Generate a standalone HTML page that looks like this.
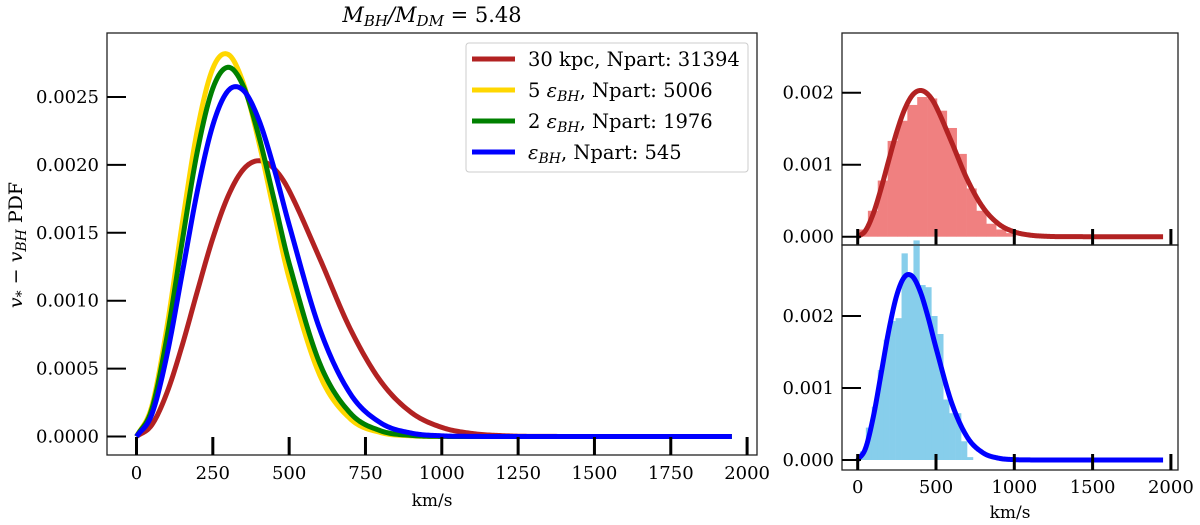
<!DOCTYPE html>
<html><head><meta charset="utf-8">
<style>
html,body{margin:0;padding:0;background:#fff;}
svg{display:block;font-family:"DejaVu Serif","Liberation Serif",serif;}
</style></head>
<body>
<svg id="chart" width="1200" height="525" viewBox="0 0 1200 525" xmlns="http://www.w3.org/2000/svg">
  <text x="432" y="22" text-anchor="middle" font-size="21"><tspan font-style="italic">M</tspan><tspan font-style="italic" font-size="15" dy="4">BH</tspan><tspan dy="-4" font-style="italic">/M</tspan><tspan font-style="italic" font-size="15" dy="4">DM</tspan><tspan dy="-4"> = 5.48</tspan></text>
  <text transform="translate(22,245) rotate(-90)" text-anchor="middle" font-size="19"><tspan font-style="italic">v</tspan><tspan font-size="14" dy="4">*</tspan><tspan dy="-4"> − </tspan><tspan font-style="italic">v</tspan><tspan font-style="italic" font-size="14" dy="4">BH</tspan><tspan dy="-4"> PDF</tspan></text>
  <text x="432" y="506" text-anchor="middle" font-size="17">km/s</text>
  <text x="1010" y="518" text-anchor="middle" font-size="17">km/s</text>
  <g id="main"></g><g id="top"></g><g id="bot"></g>
  <g id="legend"></g>
</svg>
<script>
// ---- data ----
const vGrid = [0,50,100,150,200,250,300,350,400,450,500,600,700,800,900,1000,1100,1200,1300,1950];
const red30kpc = [0,0.085,0.324,0.674,1.075,1.46,1.77,1.967,2.031,1.974,1.81,1.312,0.793,0.406,0.177,0.067,0.022,0.006,0.001,0];
const yellow5eps = [0,0.222,0.810,1.571,2.266,2.711,2.814,2.601,2.175,1.661,1.165,0.453,0.131,0.029,0.005,0,0,0,0,0];
const green2eps = [0,0.200,0.736,1.441,2.108,2.564,2.719,2.579,2.218,1.750,1.275,0.540,0.173,0.042,0.008,0.001,0,0,0,0];
const blueEps = [0,0.162,0.603,1.205,1.815,2.293,2.546,2.549,2.336,1.979,1.558,0.793,0.316,0.100,0.025,0.005,0.001,0,0,0];
const mainYTicks = [0,0.5,1.0,1.5,2.0,2.5];
const mainYLabels = ["0.0000","0.0005","0.0010","0.0015","0.0020","0.0025"];
const mainXTicks = [0,250,500,750,1000,1250,1500,1750,2000];
const sideXTicks = [0,500,1000,1500,2000];
const sideYTicks = [0,1,2];
const sideYLabels = ["0.000","0.001","0.002"];
const topHistStart = 2, topHistWidth = 63;
const topHist = [0.10,0.36,0.78,1.33,1.61,1.83,1.94,1.92,1.75,1.51,1.15,0.67,0.36,0.18,0.10,0.05];
const botHistStart = 14, botHistWidth = 38;
const botHist = [0.12,0.45,0.74,1.25,1.67,1.93,1.97,2.87,2.55,3.05,2.43,2.40,2.00,1.75,0.84,0.65,0.65,0.26,0.04];
const legendLabels = ["30 kpc, Npart: 31394","5 εBH, Npart: 5006","2 εBH, Npart: 1976","εBH, Npart: 545"];
const seriesColors = ["#b22222","#ffd700","#008000","#0000ff"];
</script>
<script>
const NS="http://www.w3.org/2000/svg";
function mk(tag,attrs,parent){const e=document.createElementNS(NS,tag);for(const k in attrs)e.setAttribute(k,attrs[k]);parent.appendChild(e);return e;}
function spline(xs,ys){
  const n=xs.length,m=new Array(n);
  m[0]=(ys[1]-ys[0])/(xs[1]-xs[0]);m[n-1]=0;
  for(let i=1;i<n-1;i++){m[i]=(ys[i+1]-ys[i-1])/(xs[i+1]-xs[i-1]);
    if(ys[i]===0&&ys[i+1]===0)m[i]=0;}
  const out=[];
  for(let i=0;i<n-1;i++){const h=xs[i+1]-xs[i];const steps=Math.max(2,Math.round(h/5));
    for(let k=0;k<steps;k++){const t=k/steps,t2=t*t,t3=t2*t;
      let y=(2*t3-3*t2+1)*ys[i]+(t3-2*t2+t)*h*m[i]+(-2*t3+3*t2)*ys[i+1]+(t3-t2)*h*m[i+1];
      if(y<0)y=0;
      out.push([xs[i]+t*h,y]);}}
  out.push([xs[n-1],ys[n-1]]);return out;
}
function curvePath(sx,sy,vals){return spline(vGrid,vals).map((p,i)=>(i?'L':'M')+sx(p[0]).toFixed(2)+','+sy(p[1]).toFixed(2)).join('');}

// ---- main panel ----
const main=document.getElementById('main');


const mL=107,mR=757,mT=33,mB=455;
const mx=v=>136.5+v*0.3053, my=v=>436.5-v*135.8;
const series=[red30kpc,yellow5eps,green2eps,blueEps];
const sNames=['curve-30kpc','curve-5-eps-bh','curve-2-eps-bh','curve-eps-bh'];
series.forEach((s,i)=>{const p=mk('path',{d:curvePath(mx,my,s),fill:'none',stroke:seriesColors[i],'stroke-width':5,'stroke-linejoin':'round'},main);

});
mk('rect',{x:mL,y:mT,width:mR-mL,height:mB-mT,fill:'none',stroke:'#222','stroke-width':1.3},main);
mainXTicks.forEach(v=>{mk('line',{x1:mx(v),x2:mx(v),y1:mB,y2:mB-18,stroke:'#000','stroke-width':3},main);
const t=mk('text',{x:mx(v),y:mB+24,'text-anchor':'middle','font-size':18},main);t.textContent=v;

});
mainYTicks.forEach((v,i)=>{mk('line',{x1:mL,x2:mL+19,y1:my(v),y2:my(v),stroke:'#000','stroke-width':2},main);
const t=mk('text',{x:mL-8,y:my(v)+6,'text-anchor':'end','font-size':18},main);t.textContent=mainYLabels[i];

});

// ---- legend ----
const lg=document.getElementById('legend');
mk('rect',{x:466,y:43,width:282,height:129,rx:3,fill:'#fff',stroke:'#ccc','stroke-width':1},lg);
legendLabels.forEach((lab,i)=>{const y=59+i*31;
 mk('line',{x1:472,x2:515,y1:y,y2:y,stroke:seriesColors[i],'stroke-width':5},lg);
 const t=mk('text',{x:528,y:y+7,'font-size':19.5},lg);
 
 
 if(lab.includes('εBH')){const parts=lab.split('εBH');
   if(parts[0])mk('tspan',{},t).textContent=parts[0];
   mk('tspan',{'font-style':'italic'},t).textContent='ε';
   mk('tspan',{'font-style':'italic','font-size':14,dy:4},t).textContent='BH';
   mk('tspan',{dy:-4},t).textContent=parts[1];
 } else t.textContent=lab;});

// ---- side panels ----
function side(g,name,top,bottom,zeroY,hist,hs,hw,color,fill,vals){
 
 
 const L=842,R=1178;
 const sx=v=>857.7+v*0.1566, sy=v=>zeroY-v*72;
 hist.forEach((h,i)=>{const b=mk('rect',{x:sx(hs+i*hw),y:sy(h),width:hw*0.1566+0.3,height:zeroY-sy(h),fill:fill},g);
 
 });
 const p=mk('path',{d:curvePath(sx,sy,vals),fill:'none',stroke:color,'stroke-width':5,'stroke-linejoin':'round'},g);
 
 
 mk('rect',{x:L,y:top,width:R-L,height:bottom-top,fill:'none',stroke:'#222','stroke-width':1.3},g);
 sideXTicks.forEach(v=>mk('line',{x1:sx(v),x2:sx(v),y1:bottom,y2:bottom-16,stroke:'#000','stroke-width':3},g));
 sideYTicks.forEach((v,i)=>{mk('line',{x1:L,x2:L+19,y1:sy(v),y2:sy(v),stroke:'#000','stroke-width':2},g);
 const t=mk('text',{x:L-8,y:sy(v)+6,'text-anchor':'end','font-size':18},g);t.textContent=sideYLabels[i];
 
 });
 return sx;
}
side(document.getElementById('top'),'top-histogram-panel',33,245,236.7,topHist,topHistStart,topHistWidth,'#b22222','#f08080',red30kpc);
const sx=side(document.getElementById('bot'),'bottom-histogram-panel',245,470,460,botHist,botHistStart,botHistWidth,'#0000ff','#87ceeb',blueEps);
const bg=document.getElementById('bot');
sideXTicks.forEach(v=>{const t=mk('text',{x:sx(v),y:493,'text-anchor':'middle','font-size':18},bg);t.textContent=v;

});
</script>
</body></html>
